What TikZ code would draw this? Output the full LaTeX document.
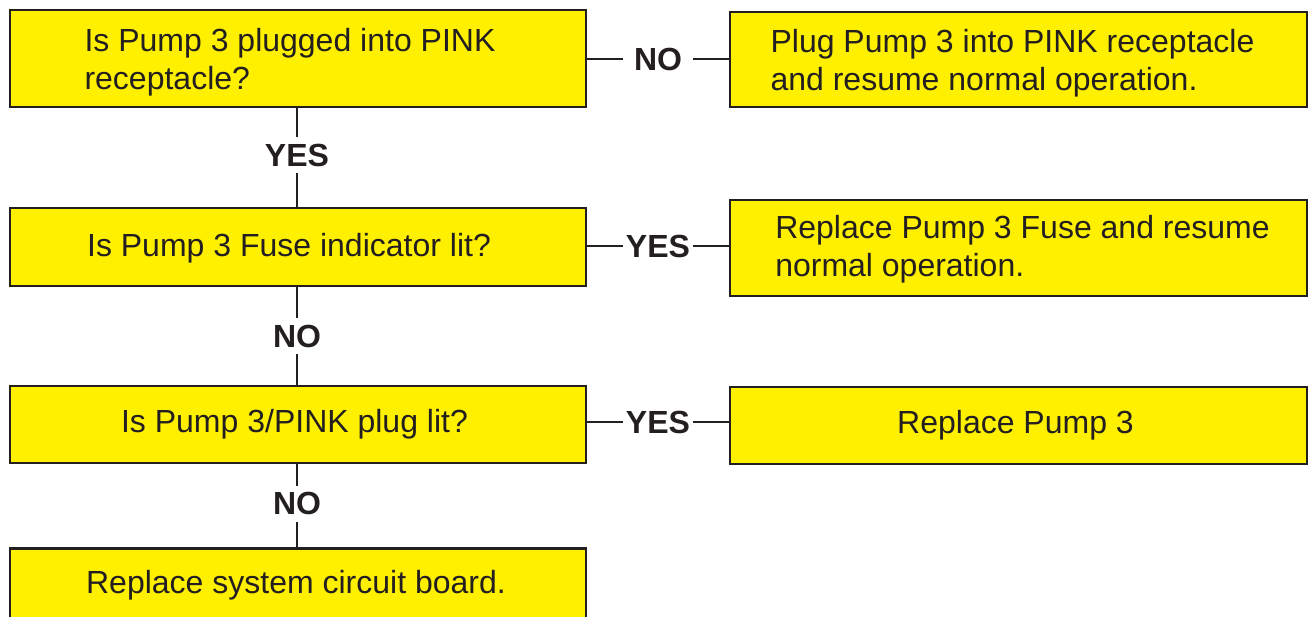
\documentclass[tikz,border=0pt]{standalone}
\usepackage{fontspec}
\setmainfont{Liberation Sans}
\definecolor{ink}{HTML}{231F20}
\definecolor{boxyellow}{HTML}{FFF000}
\begin{document}
\begin{tikzpicture}[x=1pt,y=-1pt,
  box/.style={draw=ink,fill=boxyellow,line width=2.8pt,minimum width=576pt,
    align=left,text=ink,inner sep=0pt,font=\fontsize{32}{38}\selectfont},
  conn/.style={draw=ink,line width=2.8pt},
  lab/.style={fill=white,text=ink,inner sep=0pt,minimum width=70pt,minimum height=36pt,
    font=\fontsize{32}{36}\selectfont\bfseries}]
\clip (0,0) rectangle (1309,617);
\fill[white] (0,0) rectangle (1309,617);
\node[box,minimum height=97pt,text height=70pt,text depth=7pt] (q1) at (298,58.5) {Is Pump 3 plugged into PINK\hspace*{16pt}\\receptacle?};
\node[box,minimum height=95pt,minimum width=577pt,text height=70pt,text depth=7pt] (r1) at (1018.5,59.5) {Plug Pump 3 into PINK receptacle\hspace*{12pt}\\and resume normal operation.};
\node[box,minimum height=78pt,text height=27pt,text depth=7pt] (q2) at (298,247) {Is Pump 3 Fuse indicator lit?\hspace*{18pt}};
\node[box,minimum height=96pt,minimum width=577pt,text height=65pt,text depth=7pt] (r2) at (1018.5,248) {Replace Pump 3 Fuse and resume\hspace*{-8pt}\\normal operation.};
\node[box,minimum height=77pt] (q3) at (298,424.5) {Is Pump 3/PINK plug lit?\hspace*{7pt}};
\node[box,minimum height=77pt,minimum width=577pt] (r3) at (1018.5,425.5) {Replace Pump 3\hspace*{6pt}};
\node[box,anchor=north,text height=45pt,text depth=45pt] (q4) at (298,547) {Replace system circuit board.\hspace*{4pt}};
\draw[conn] (q1.east |- 0,59) coordinate (a1) -- (r1.west |- a1) node[lab,midway] {NO};
\draw[conn] (q2.east |- 0,246) coordinate (a2) -- (r2.west |- a2) node[lab,midway] {YES};
\draw[conn] (q3.east |- 0,422) coordinate (a3) -- (r3.west |- a3) node[lab,midway] {YES};
\draw[conn] (297,0 |- q1.south) coordinate (v1) -- (v1 |- q2.north) node[lab,midway,yshift=2pt] {YES};
\draw[conn] (297,0 |- q2.south) coordinate (v2) -- (v2 |- q3.north) node[lab,midway] {NO};
\draw[conn] (297,0 |- q3.south) coordinate (v3) -- (v3 |- q4.north) node[lab,midway,yshift=2pt] {NO};
\end{tikzpicture}
\end{document}
